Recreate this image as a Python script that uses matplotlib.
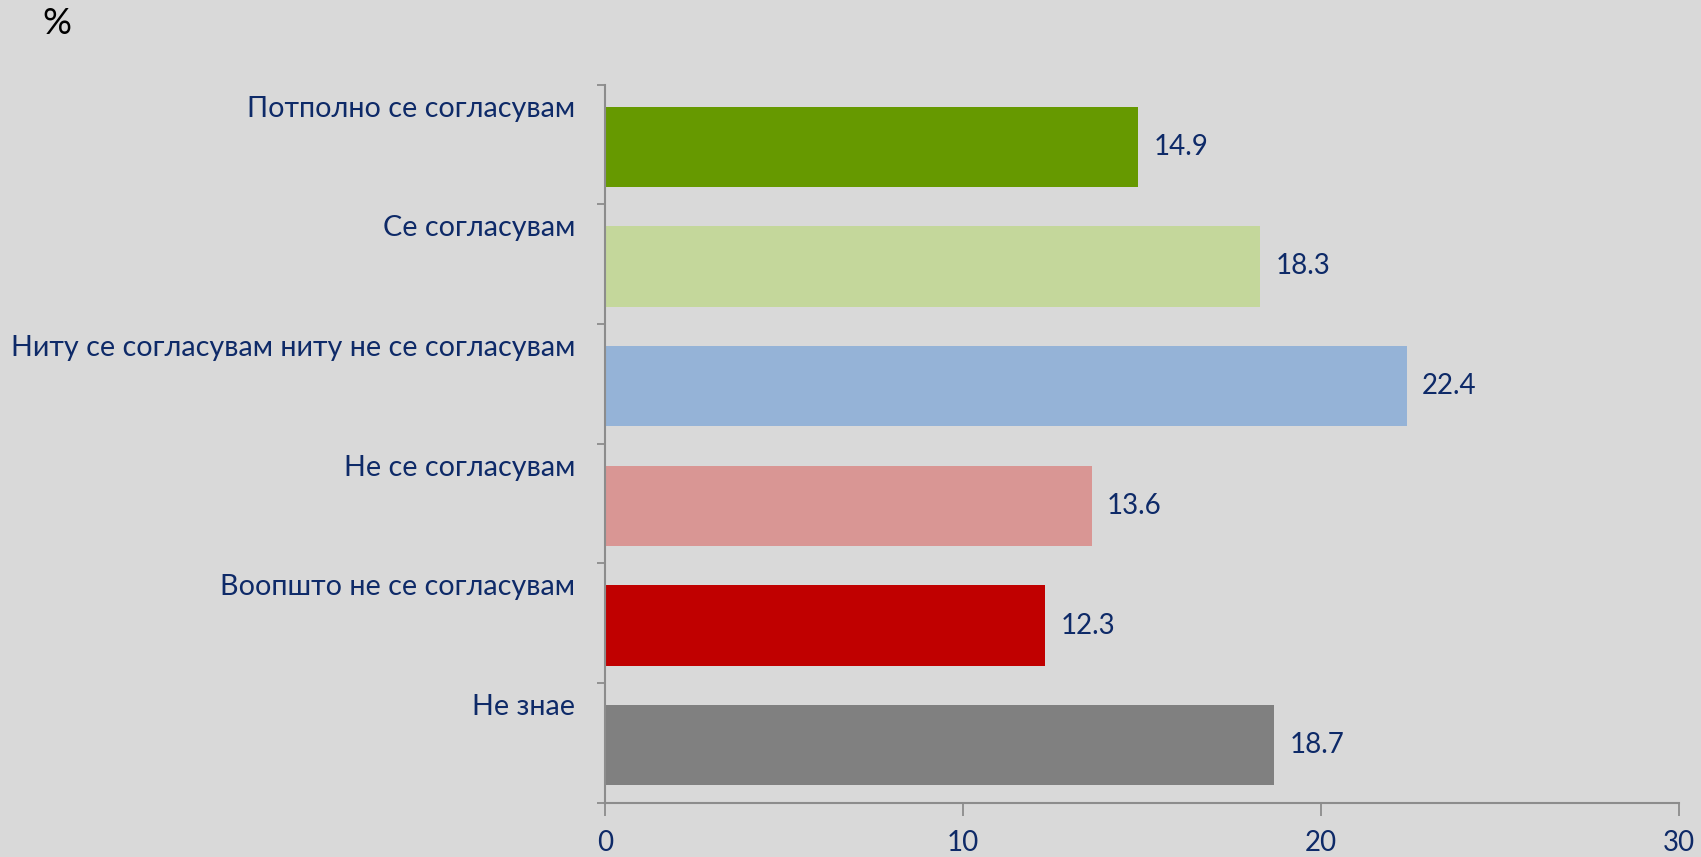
import matplotlib
matplotlib.use("Agg")
import matplotlib.pyplot as plt

categories = ["Потполно се согласувам", "Се согласувам",
              "Ниту се согласувам ниту не се согласувам", "Не се согласувам",
              "Воопшто не се согласувам", "Не знае"]
values = [14.9, 18.3, 22.4, 13.6, 12.3, 18.7]
colors = ["#669900", "#C4D79B", "#95B3D7", "#D99694", "#C00000", "#808080"]
xticks = [0, 10, 20, 30]

TXT = "#0E2A68"
BG = "#D9D9D9"
plt.rcParams['font.family'] = ['Lato', 'DejaVu Sans']

fig = plt.figure(figsize=(17.01, 8.57), dpi=100, facecolor=BG)
ax = fig.add_axes([0.3557, 0.0634, 0.987 - 0.3557, 0.9013 - 0.0634], facecolor=BG)

n = len(categories)
pos = list(range(n))
ax.barh([p + 0.02 for p in pos], values, height=0.67, color=colors)
ax.set_ylim(n - 0.5, -0.5)
ax.set_xlim(0, 30)

for p, v in zip(pos, values):
    ax.annotate(f"{v}", (v, p + 0.02), xytext=(11, 0), textcoords="offset points",
                va="center", ha="left", fontsize=20, color=TXT)
for p, c in zip(pos, categories):
    ax.annotate(c, (0, p - 0.3), xytext=(-30, 0), textcoords="offset pixels",
                va="center", ha="right", fontsize=20.7, color=TXT,
                annotation_clip=False)

ax.set_yticks([p - 0.5 for p in pos] + [n - 0.5])
ax.set_yticklabels([])
ax.set_xticks(xticks)
ax.set_xticklabels([str(t) for t in xticks], fontsize=20, color=TXT)
ax.tick_params(axis='y', length=6, width=1.3, color="#8C8C8C", direction='out')
ax.tick_params(axis='x', length=9, width=1.3, color="#8C8C8C", direction='out', pad=11)
for s in ['top', 'right']:
    ax.spines[s].set_visible(False)
for s in ['left', 'bottom']:
    ax.spines[s].set_color("#8C8C8C")
    ax.spines[s].set_linewidth(1.5)

fig.text(57 / 1701, 1 - 24 / 857, "%", fontsize=26, color="black", ha="center", va="center")

fig.savefig("out.png", dpi=100, facecolor=BG)
